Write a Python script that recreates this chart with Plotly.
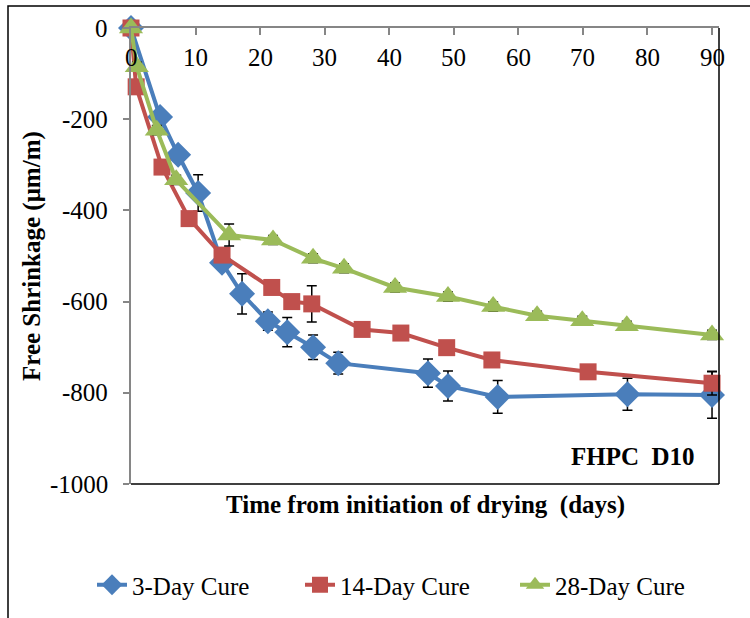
import plotly.graph_objects as go

# ---------------- data ----------------
days_3 = [0, 4.5, 7.3, 10.4, 14.1, 17.2, 21.2, 24.2, 28.2, 32.1, 46, 49.1, 56.8, 76.9, 90]
shrink_3 = [0, -195, -278, -362, -515, -583, -643, -667, -700, -735, -757, -785, -809, -803, -805]
err_3 = [0, 5, 5, 40, 10, 44, 20, 32, 27, 24, 31, 33, 36, 35, 51]

days_14 = [0, 0.8, 4.8, 9.0, 14.1, 21.8, 24.9, 28.0, 35.8, 41.8, 48.9, 55.9, 70.8, 90]
shrink_14 = [0, -129, -305, -418, -498, -569, -600, -605, -661, -669, -701, -728, -754, -779]
err_14 = [0, 5, 5, 5, 10, 8, 8, 40, 5, 5, 5, 5, 5, 26]

days_28 = [0, 0.9, 4.0, 7.0, 15.2, 22.0, 28.2, 33.0, 40.9, 49.1, 56.1, 62.9, 69.9, 76.8, 90]
shrink_28 = [0, -85, -224, -333, -454, -465, -505, -527, -569, -589, -611, -631, -642, -653, -673]
err_28 = [0, 10, 10, 10, 24, 10, 10, 10, 10, 10, 10, 10, 10, 10, 10]

series_names = ["3-Day Cure", "14-Day Cure", "28-Day Cure"]
x_ticks = [0, 10, 20, 30, 40, 50, 60, 70, 80, 90]
y_ticks = [0, -200, -400, -600, -800, -1000]

FONT = "Liberation Serif, Times New Roman, serif"
AX = "#868686"
FS = 25

W, H = 750, 618
L, R, T, B = 131, 31, 28, 134
pw, ph = W - L - R, H - T - B

fig = go.Figure()

specs = [
    (days_3, shrink_3, err_3, series_names[0], "#4A7EBB", "diamond", 20, "legend"),
    (days_14, shrink_14, err_14, series_names[1], "#C0504D", "square", 17, "legend2"),
    (days_28, shrink_28, err_28, series_names[2], "#9BBB59", "triangle-up", 21, "legend3"),
]
for xs, ys, es, nm, col, sym, sz, lg in specs:
    fig.add_trace(go.Scatter(
        x=xs, y=ys, name=nm, mode="lines+markers", cliponaxis=False,
        line=dict(color=col, width=4),
        marker=dict(symbol=sym, size=sz, color=col),
        error_y=dict(type="data", array=es, visible=True, color="black",
                     thickness=1.5, width=5),
        legend=lg,
    ))

def px2paper_x(px):
    return (px - L) / pw

def px2paper_y(py):
    return (H - B - py) / ph

shapes = [
    # plot-area right & bottom border
    dict(type="line", xref="paper", yref="paper", x0=1, x1=1, y0=0, y1=1,
         line=dict(color="black", width=1.5), layer="above"),
    dict(type="line", xref="paper", yref="paper", x0=0, x1=1, y0=0, y1=0,
         line=dict(color="black", width=1.5), layer="above"),
    # outer chart border
    dict(type="rect", xref="paper", yref="paper",
         x0=px2paper_x(8), x1=px2paper_x(770), y0=px2paper_y(640), y1=px2paper_y(6),
         line=dict(color="black", width=1.5), layer="below"),
]

annotations = [
    dict(text="<b>Time from initiation of drying  (days)</b>", xref="paper", yref="paper",
         x=px2paper_x(425), y=px2paper_y(505), xanchor="center", yanchor="middle",
         showarrow=False, font=dict(family=FONT, size=FS, color="black")),
    dict(text="<b>Free Shrinkage (μm/m)</b>", xref="paper", yref="paper",
         x=px2paper_x(32), y=px2paper_y(256), xanchor="center", yanchor="middle",
         textangle=-90, showarrow=False, font=dict(family=FONT, size=FS, color="black")),
    dict(text="<b>FHPC  D10</b>", xref="paper", yref="paper",
         x=px2paper_x(697), y=px2paper_y(456), xanchor="right", yanchor="middle",
         showarrow=False, font=dict(family=FONT, size=FS, color="black")),
]
# tick labels (x labels sit just below the top axis line, as in the original)
for v in x_ticks:
    annotations.append(dict(text=str(v), xref="x", yref="paper", x=v, y=px2paper_y(58),
                            xanchor="center", yanchor="middle", showarrow=False,
                            font=dict(family=FONT, size=FS, color="black")))
for v in y_ticks:
    annotations.append(dict(text=str(v), xref="paper", yref="y", x=px2paper_x(110), y=v,
                            xanchor="right", yanchor="middle", showarrow=False,
                            font=dict(family=FONT, size=FS, color="black")))

def legend_at(px_left):
    return dict(orientation="h", xref="container", yref="container",
                x=px_left / W, y=1 - 585 / H, xanchor="left", yanchor="middle",
                font=dict(family=FONT, size=FS, color="black"),
                itemwidth=30, bgcolor="rgba(0,0,0,0)")

fig.update_layout(
    width=W, height=H,
    margin=dict(l=L, r=R, t=T, b=B, pad=0),
    paper_bgcolor="white", plot_bgcolor="white",
    font=dict(family=FONT, size=FS, color="black"),
    showlegend=True,
    legend=legend_at(92),
    legend2=legend_at(300),
    legend3=legend_at(515),
    xaxis=dict(range=[0, 91.08], side="top", tickvals=x_ticks, showticklabels=False,
               ticks="inside", ticklen=7, tickcolor=AX, tickwidth=1.5,
               showline=True, linecolor=AX, linewidth=2,
               showgrid=False, zeroline=False),
    yaxis=dict(range=[-1000, 0], tickvals=y_ticks, showticklabels=False,
               ticks="outside", ticklen=6, tickcolor=AX, tickwidth=1.5,
               showline=True, linecolor=AX, linewidth=2,
               showgrid=False, zeroline=False),
    shapes=shapes, annotations=annotations,
)

fig.write_html("out.html")
